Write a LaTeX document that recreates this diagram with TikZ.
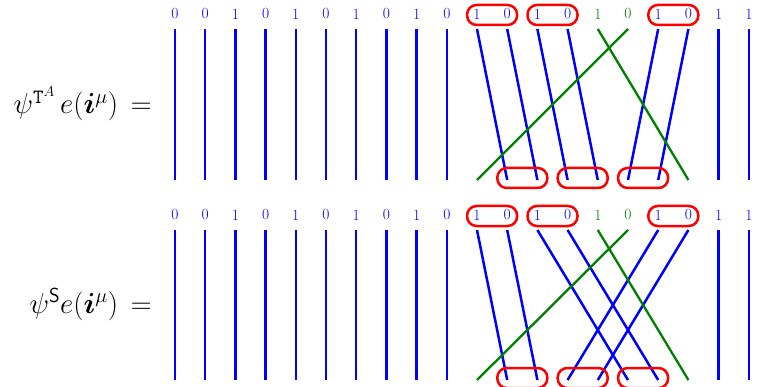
\RequirePackage{fix-cm}
\documentclass[tikz,border=0pt]{standalone}
\usepackage{amsmath,amssymb,bm}
\usetikzlibrary{calc}
\definecolor{strandblue}{RGB}{0,0,255}
\definecolor{strandgreen}{RGB}{0,128,0}
\definecolor{boxred}{RGB}{255,0,0}
\tikzset{
  bstrand/.style={draw=strandblue,line width=2.5pt},
  gstrand/.style={draw=strandgreen,line width=2.3pt},
  pairbox/.style={draw=boxred,line width=2.5pt,rectangle,rounded corners=9.5pt,minimum width=50pt,minimum height=20pt,inner sep=0pt},
  digit/.style={font=\fontsize{15.5}{18}\selectfont,inner sep=0pt},
  eqlabel/.style={font=\fontsize{29}{34}\selectfont,anchor=base east,inner sep=0pt}
}
\begin{document}
\begin{tikzpicture}[x=1pt,y=-1pt]
\useasboundingbox (0,0) rectangle (767,387);
% coordinates
\foreach \k in {0,...,19} {
  \coordinate (ta\k) at ({175+30.2*\k},29);
  \coordinate (ba\k) at ({175+30.2*\k},180);
  \coordinate (tb\k) at ({175+30.2*\k},230);
  \coordinate (bb\k) at ({175+30.2*\k},380);
}
% digit labels
\foreach \k/\d/\c in {0/0/strandblue,1/0/strandblue,2/1/strandblue,3/0/strandblue,4/1/strandblue,5/0/strandblue,6/1/strandblue,7/0/strandblue,8/1/strandblue,9/0/strandblue,10/1/strandblue,11/0/strandblue,12/1/strandblue,13/0/strandblue,14/1/strandgreen,15/0/strandgreen,16/1/strandblue,17/0/strandblue,18/1/strandblue,19/1/strandblue} {
  \node[digit,text=\c] (la\k) at ($(ta\k)+(0,-15)$) {\d};
  \node[digit,text=\c] (lb\k) at ($(tb\k)+(0,-15)$) {\d};
}
% equation labels
\node[eqlabel] (eqa) at (152,114) {$\psi^{\mathtt{T}^{A}}\,e(\boldsymbol{i}^{\mu})\,=$};
\node[eqlabel] (eqb) at (152,313) {$\psi^{\mathsf{S}}e(\boldsymbol{i}^{\mu})\,=$};
% vertical strands
\foreach \k in {0,...,9,18,19} {
  \draw[bstrand] (ta\k) -- (ba\k);
  \draw[bstrand] (tb\k) -- (bb\k);
}
% top panel (T^A)
\foreach \s/\e in {10/11,11/12,12/13,13/14,16/15,17/16} {
  \draw[bstrand] (ta\s) -- (ba\e);
}
\foreach \s/\e in {14/17,15/10} {
  \draw[gstrand] (ta\s) -- (ba\e);
}
% bottom panel (S)
\foreach \s/\e in {10/11,11/12,12/15,13/16,16/13,17/14} {
  \draw[bstrand] (tb\s) -- (bb\e);
}
\foreach \s/\e in {14/17,15/10} {
  \draw[gstrand] (tb\s) -- (bb\e);
}
% boxes around labels
\foreach \p/\q/\n in {10/11/1,12/13/2,16/17/3} {
  \node[pairbox] (tbxa\n) at ($(la\p)!0.5!(la\q)+(0,1)$) {};
  \node[pairbox] (tbxb\n) at ($(lb\p)!0.5!(lb\q)+(0,1)$) {};
}
% boxes around bottom ends
\foreach \p/\q/\n in {11/12/1,13/14/2,15/16/3} {
  \node[pairbox] (bbxa\n) at ($(ba\p)!0.5!(ba\q)+(0,-2)$) {};
  \node[pairbox] (bbxb\n) at ($(bb\p)!0.5!(bb\q)+(0,-2)$) {};
}
\end{tikzpicture}
\end{document}
